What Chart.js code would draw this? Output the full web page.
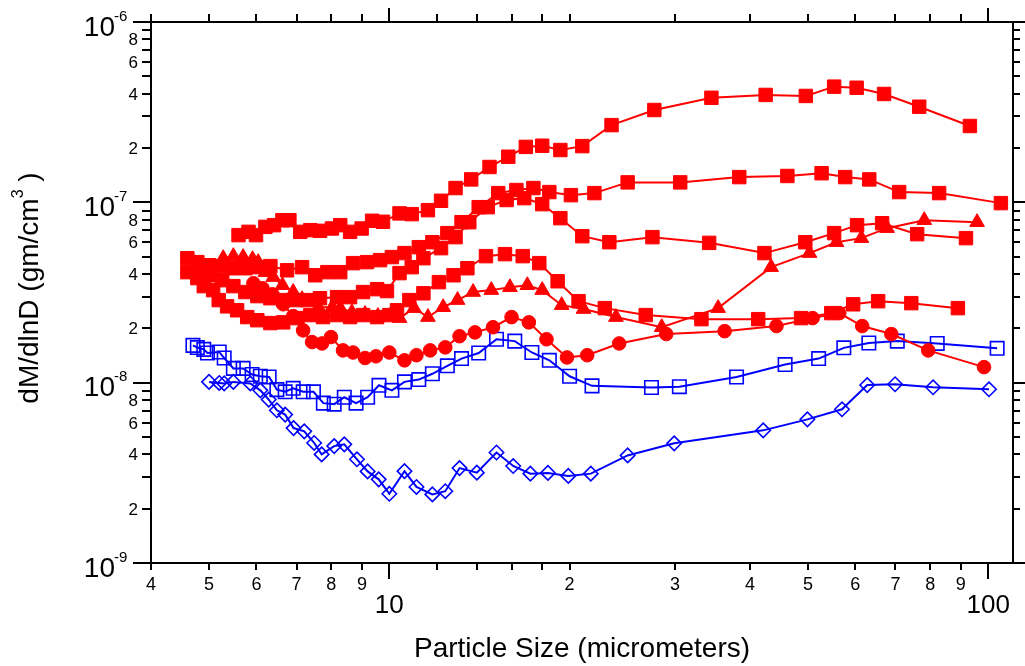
<!DOCTYPE html>
<html>
<head>
<meta charset="utf-8">
<title>Particle size distribution</title>
<script src="https://cdn.jsdelivr.net/npm/chart.js@4.4.1/dist/chart.umd.min.js"></script>
<style>
  html, body { margin: 0; padding: 0; background: #fff; }
  #wrap { width: 1025px; height: 666px; }
</style>
</head>
<body>
<div id="wrap"><canvas id="sizeChart" width="1025" height="666"></canvas></div>
<script>
// particle size (micrometers) and dM/dlnD (gm/cm^3) for each run

// red filled squares, upper run
const sizeA = [5.60, 5.82, 5.99, 6.21, 6.42, 6.63, 6.81, 7.10, 7.38, 7.66, 8.02, 8.28, 8.60, 8.99, 9.36, 9.76,
  10.4, 10.9, 11.6, 12.2, 12.9, 13.7, 14.7, 15.8, 16.9, 18.0, 19.3, 21.0, 23.5, 27.7, 34.5, 42.5, 49.6, 55.3, 60.3, 67.0, 76.7, 93.2];
const massA = [6.58e-8, 6.86e-8, 6.58e-8, 7.31e-8, 7.47e-8, 7.96e-8, 7.96e-8, 6.86e-8, 7.01e-8, 6.95e-8, 7.16e-8, 7.47e-8, 6.86e-8, 7.16e-8, 7.9e-8, 7.8e-8,
  8.68e-8, 8.6e-8, 9.05e-8, 1.02e-7, 1.2e-7, 1.34e-7, 1.57e-7, 1.79e-7, 2.03e-7, 2.06e-7, 1.95e-7, 2.05e-7, 2.68e-7, 3.25e-7, 3.8e-7, 3.94e-7, 3.89e-7, 4.38e-7, 4.32e-7, 3.99e-7, 3.39e-7, 2.65e-7];

// red filled squares, second run
const sizeB = [4.60, 4.78, 5.00, 5.22, 5.47, 5.75, 6.04, 6.33, 6.75, 7.15, 7.52, 7.88, 8.28, 8.70, 9.18, 9.65,
  10.1, 10.6, 11.2, 11.8, 12.5, 13.2, 14.1, 15.2, 16.3, 17.4, 18.5, 20.1, 22.0, 25.0, 30.6, 38.4, 46.2, 52.7, 57.7, 63.3, 71.0, 82.8, 105];
const massB = [4.90e-8, 4.66e-8, 4.48e-8, 4.43e-8, 4.31e-8, 4.31e-8, 4.37e-8, 4.43e-8, 4.20e-8, 4.37e-8, 3.94e-8, 4.10e-8, 4.10e-8, 4.60e-8, 4.66e-8, 4.78e-8,
  4.97e-8, 5.23e-8, 5.64e-8, 6.01e-8, 6.75e-8, 7.76e-8, 9.4e-8, 1.125e-7, 1.17e-7, 1.2e-7, 1.14e-7, 1.096e-7, 1.125e-7, 1.29e-7, 1.29e-7, 1.38e-7, 1.40e-7, 1.45e-7, 1.38e-7, 1.34e-7, 1.14e-7, 1.125e-7, 9.9e-8];

// red filled squares, third run
const sizeC = [4.84, 5.03, 5.26, 5.49, 5.75, 6.02, 6.33, 6.65, 7.00, 7.29, 7.66, 8.18, 8.60, 9.04, 9.54, 9.91,
  10.4, 10.9, 11.4, 12.2, 12.9, 13.6, 14.6, 15.7, 16.8, 18.0, 19.3, 21.0, 23.3, 27.5, 34.2, 42.3, 49.5, 55.3, 60.4, 66.5, 76.1, 91.8];
const massC = [4.31e-8, 3.94e-8, 3.70e-8, 3.43e-8, 3.18e-8, 3.02e-8, 2.94e-8, 2.87e-8, 2.87e-8, 2.87e-8, 2.94e-8, 2.98e-8, 2.98e-8, 3.18e-8, 3.30e-8, 3.22e-8,
  4.05e-8, 4.37e-8, 4.90e-8, 5.57e-8, 6.41e-8, 7.76e-8, 9.4e-8, 1.03e-7, 1.055e-7, 9.77e-8, 8.17e-8, 6.49e-8, 6.01e-8, 6.41e-8, 5.96e-8, 5.23e-8, 6.01e-8, 6.75e-8, 7.47e-8, 7.66e-8, 6.66e-8, 6.33e-8];

// red filled squares, lower run
const sizeD = [4.60, 4.78, 4.90, 5.08, 5.19, 5.36, 5.57, 5.79, 6.02, 6.33, 6.65, 7.02, 7.38, 7.75, 8.18, 8.60, 9.04, 9.54,
  10.0, 10.3, 10.8, 11.4, 12.1, 12.8, 13.5, 14.5, 15.6, 16.7, 17.8, 19.1, 20.7, 22.9, 26.8, 33.2, 41.3, 48.7, 54.7, 59.5, 65.5, 74.4, 89.0];
const massD = [4.10e-8, 3.80e-8, 3.43e-8, 3.26e-8, 2.87e-8, 2.65e-8, 2.52e-8, 2.31e-8, 2.22e-8, 2.14e-8, 2.16e-8, 2.28e-8, 2.37e-8, 2.31e-8, 2.37e-8, 2.31e-8, 2.37e-8, 2.31e-8,
  2.37e-8, 2.52e-8, 2.87e-8, 3.13e-8, 3.61e-8, 3.94e-8, 4.31e-8, 5.03e-8, 5.16e-8, 5.03e-8, 4.60e-8, 3.65e-8, 2.83e-8, 2.59e-8, 2.37e-8, 2.25e-8, 2.25e-8, 2.28e-8, 2.43e-8, 2.72e-8, 2.83e-8, 2.76e-8, 2.59e-8];

// red filled triangles
const sizeE = [5.28, 5.49, 5.70, 5.91, 6.04, 6.21, 6.40, 6.63, 6.91, 7.15, 7.61, 8.03, 8.28, 8.66, 9.11, 9.57,
  10.0, 10.4, 11.0, 11.6, 12.3, 13.0, 13.8, 14.8, 15.9, 17.0, 18.0, 19.4, 21.1, 23.9, 28.5, 35.4, 43.4, 50.3, 55.8, 61.4, 67.8, 78.2, 95.8];
const massE = [4.90e-8, 5.03e-8, 4.97e-8, 4.84e-8, 4.66e-8, 4.10e-8, 3.85e-8, 3.47e-8, 3.18e-8, 2.90e-8, 2.62e-8, 2.62e-8, 2.59e-8, 2.46e-8, 2.40e-8, 2.34e-8,
  2.34e-8, 2.28e-8, 2.59e-8, 2.31e-8, 2.62e-8, 2.87e-8, 3.18e-8, 3.26e-8, 3.38e-8, 3.47e-8, 3.26e-8, 2.69e-8, 2.56e-8, 2.31e-8, 2.03e-8, 2.59e-8, 4.37e-8, 5.23e-8, 6.01e-8, 6.33e-8, 7.19e-8, 7.96e-8, 7.76e-8];

// red filled circles
const sizeF = [5.93, 6.14, 6.38, 6.65, 6.91, 7.18, 7.43, 7.72, 7.99, 8.37, 8.70, 9.11, 9.50,
  10.0, 10.6, 11.1, 11.7, 12.4, 13.1, 13.9, 14.9, 16.0, 17.1, 18.3, 19.8, 21.4, 24.2, 29.0, 36.3, 44.3, 50.9, 56.4, 61.6, 68.9, 79.4, 98.4];
const massF = [3.56e-8, 3.34e-8, 3.09e-8, 2.72e-8, 2.34e-8, 1.95e-8, 1.68e-8, 1.65e-8, 1.79e-8, 1.51e-8, 1.47e-8, 1.37e-8, 1.40e-8,
  1.47e-8, 1.33e-8, 1.42e-8, 1.51e-8, 1.57e-8, 1.81e-8, 1.90e-8, 2.03e-8, 2.31e-8, 2.16e-8, 1.74e-8, 1.38e-8, 1.42e-8, 1.65e-8, 1.86e-8, 1.93e-8, 2.06e-8, 2.28e-8, 2.43e-8, 2.06e-8, 1.86e-8, 1.51e-8, 1.22e-8];

// blue open squares
const sizeG = [4.70, 4.78, 4.90, 4.97, 5.20, 5.30, 5.49, 5.70, 5.90, 6.09, 6.30, 6.49, 6.70, 6.91, 7.18, 7.47, 7.76, 8.09, 8.41, 8.80, 9.20, 9.61,
  10.1, 10.6, 11.2, 11.8, 12.5, 13.2, 14.1, 15.1, 16.2, 17.3, 18.5, 20.0, 21.8, 27.4, 30.5, 38.0, 45.8, 52.1, 57.4, 63.2, 70.5, 82.2, 103.5];
const massG = [1.61e-8, 1.565e-8, 1.53e-8, 1.46e-8, 1.48e-8, 1.37e-8, 1.20e-8, 1.20e-8, 1.11e-8, 1.085e-8, 1.075e-8, 9.15e-9, 8.9e-9, 9.3e-9, 8.9e-9, 8.9e-9, 7.7e-9, 7.6e-9, 8.3e-9, 7.7e-9, 8.3e-9, 9.67e-9,
  9.07e-9, 1.01e-8, 1.04e-8, 1.12e-8, 1.24e-8, 1.36e-8, 1.46e-8, 1.74e-8, 1.70e-8, 1.47e-8, 1.33e-8, 1.085e-8, 9.6e-9, 9.4e-9, 9.5e-9, 1.075e-8, 1.26e-8, 1.36e-8, 1.56e-8, 1.66e-8, 1.70e-8, 1.65e-8, 1.55e-8];

// blue open diamonds
const sizeH = [5.00, 5.20, 5.30, 5.49, 5.86, 6.09, 6.29, 6.49, 6.70, 6.92, 7.21, 7.49, 7.71, 8.09, 8.41, 8.83, 9.20, 9.60,
  10.0, 10.6, 11.1, 11.8, 12.4, 13.1, 14.0, 15.1, 16.1, 17.2, 18.4, 19.9, 21.7, 25.0, 29.9, 42.1, 49.9, 57.0, 62.8, 69.9, 80.9, 100.3];
const massH = [1.01e-8, 9.96e-9, 9.9e-9, 1.01e-8, 9.9e-9, 9.07e-9, 8.06e-9, 7.03e-9, 6.65e-9, 5.6e-9, 5.37e-9, 4.63e-9, 4.0e-9, 4.45e-9, 4.55e-9, 3.76e-9, 3.22e-9, 2.91e-9,
  2.42e-9, 3.23e-9, 2.64e-9, 2.4e-9, 2.5e-9, 3.36e-9, 3.17e-9, 4.1e-9, 3.45e-9, 3.13e-9, 3.16e-9, 3.04e-9, 3.13e-9, 3.95e-9, 4.61e-9, 5.44e-9, 6.26e-9, 7.12e-9, 9.7e-9, 9.8e-9, 9.43e-9, 9.19e-9];

// axis ticks
const xMajor = [10, 100];
const xMinor = [4, 5, 6, 7, 8, 9, 12, 14, 16, 18, 20, 30, 40, 50, 60, 70, 80, 90];
const xMinorText = ['4', '5', '6', '7', '8', '9', '', '', '', '', '2', '3', '4', '5', '6', '7', '8', '9'];
const yMajor = [1e-9, 1e-8, 1e-7, 1e-6];
const yMajorExp = ['-9', '-8', '-7', '-6'];
const yMinorMult = [2, 3, 4, 5, 6, 7, 8, 9];
const yMinorText = ['2', '', '4', '', '6', '', '8', ''];

const RED = '#ff0000';
const BLUE = '#0000ff';
const FONT = '"Liberation Sans", Arial, Helvetica, sans-serif';

function points(xs, ys) {
  return xs.map((v, i) => ({ x: v, y: ys[i] }));
}

function series(xs, ys, color, style, radius, filled) {
  return {
    data: points(xs, ys),
    borderColor: color,
    borderWidth: 2,
    pointStyle: style,
    pointRadius: radius,
    pointBackgroundColor: filled ? color : 'rgba(0,0,0,0)',
    pointBorderColor: color,
    pointBorderWidth: filled ? 1 : 1.6,
    tension: 0
  };
}

function drawText(ctx, str, x, y, size, align) {
  ctx.font = size + 'px ' + FONT;
  ctx.textAlign = align;
  ctx.textBaseline = 'alphabetic';
  ctx.fillText(str, x, y);
}

// frame, ticks on all four sides and the log labels
const logAxes = {
  id: 'logAxes',
  afterDraw(chart) {
    const { ctx, chartArea: a } = chart;
    const xs = chart.scales.x;
    const ys = chart.scales.y;
    ctx.save();
    ctx.strokeStyle = '#000';
    ctx.fillStyle = '#000';
    ctx.lineWidth = 2;
    ctx.strokeRect(a.left, a.top, a.right - a.left, a.bottom - a.top);

    ctx.beginPath();
    xMajor.forEach(v => {
      const px = Math.round(xs.getPixelForValue(v));
      ctx.moveTo(px, a.bottom); ctx.lineTo(px, a.bottom + 16);
      ctx.moveTo(px, a.top); ctx.lineTo(px, a.top - 14);
    });
    xMinor.forEach(v => {
      const px = Math.round(xs.getPixelForValue(v));
      ctx.moveTo(px, a.bottom); ctx.lineTo(px, a.bottom + 7);
      ctx.moveTo(px, a.top); ctx.lineTo(px, a.top - 8);
    });
    yMajor.forEach(v => {
      const py = Math.round(ys.getPixelForValue(v));
      ctx.moveTo(a.left, py); ctx.lineTo(a.left - 18, py);
      ctx.moveTo(a.right, py); ctx.lineTo(a.right + 12, py);
    });
    yMajor.slice(0, -1).forEach(base => {
      yMinorMult.forEach(m => {
        const py = Math.round(ys.getPixelForValue(base * m));
        ctx.moveTo(a.left, py); ctx.lineTo(a.left - 9, py);
        ctx.moveTo(a.right, py); ctx.lineTo(a.right + 7, py);
      });
    });
    ctx.stroke();

    // x labels: small digits inside a decade, large decade numbers below
    xMinor.forEach((v, i) => {
      if (!xMinorText[i]) return;
      drawText(ctx, xMinorText[i], xs.getPixelForValue(v), a.bottom + 27, 18, 'center');
    });
    xMajor.forEach(v => {
      drawText(ctx, String(v), xs.getPixelForValue(v), a.bottom + 50, 26, 'center');
    });

    // y labels
    yMajor.slice(0, -1).forEach(base => {
      yMinorMult.forEach((m, i) => {
        if (!yMinorText[i]) return;
        const py = ys.getPixelForValue(base * m);
        drawText(ctx, yMinorText[i], a.left - 13, py + 6, 17, 'right');
      });
    });
    yMajor.forEach((v, i) => {
      const py = ys.getPixelForValue(v);
      drawText(ctx, '10', a.left - 36, py + 13.5, 28, 'right');
      drawText(ctx, yMajorExp[i], a.left - 37, py - 1.5, 15, 'left');
    });

    // axis titles
    drawText(ctx, 'Particle Size (micrometers)', (a.left + a.right) / 2, 657, 28, 'center');

    ctx.translate(38, 288);
    ctx.rotate(-Math.PI / 2);
    ctx.font = '28px ' + FONT;
    const head = 'dM/dlnD (gm/cm';
    const wHead = ctx.measureText(head).width;
    ctx.font = '16px ' + FONT;
    const wSup = ctx.measureText('3').width;
    ctx.font = '28px ' + FONT;
    const wTail = ctx.measureText(' )').width;
    let tx = -(wHead + wSup + wTail) / 2;
    drawText(ctx, head, tx, 0, 28, 'left');
    tx += wHead;
    drawText(ctx, '3', tx, -15, 16, 'left');
    tx += wSup;
    drawText(ctx, ' )', tx, 0, 28, 'left');
    ctx.restore();
  }
};

new Chart(document.getElementById('sizeChart'), {
  type: 'line',
  data: {
    datasets: [
      series(sizeA, massA, RED, 'rect', 9.5, true),
      series(sizeB, massB, RED, 'rect', 9.5, true),
      series(sizeC, massC, RED, 'rect', 9.5, true),
      series(sizeD, massD, RED, 'rect', 9.5, true),
      series(sizeE, massE, RED, 'triangle', 8.5, true),
      series(sizeF, massF, RED, 'circle', 6.8, true),
      series(sizeG, massG, BLUE, 'rect', 9.5, false),
      series(sizeH, massH, BLUE, 'rectRot', 7.2, false)
    ]
  },
  options: {
    responsive: false,
    animation: false,
    layout: { padding: { left: 151, right: 12, top: 22, bottom: 103 } },
    plugins: { legend: { display: false }, tooltip: { enabled: false } },
    scales: {
      x: { type: 'logarithmic', min: 4, max: 110, display: false },
      y: { type: 'logarithmic', min: 1e-9, max: 1e-6, display: false }
    }
  },
  plugins: [logAxes]
});
</script>
</body>
</html>
